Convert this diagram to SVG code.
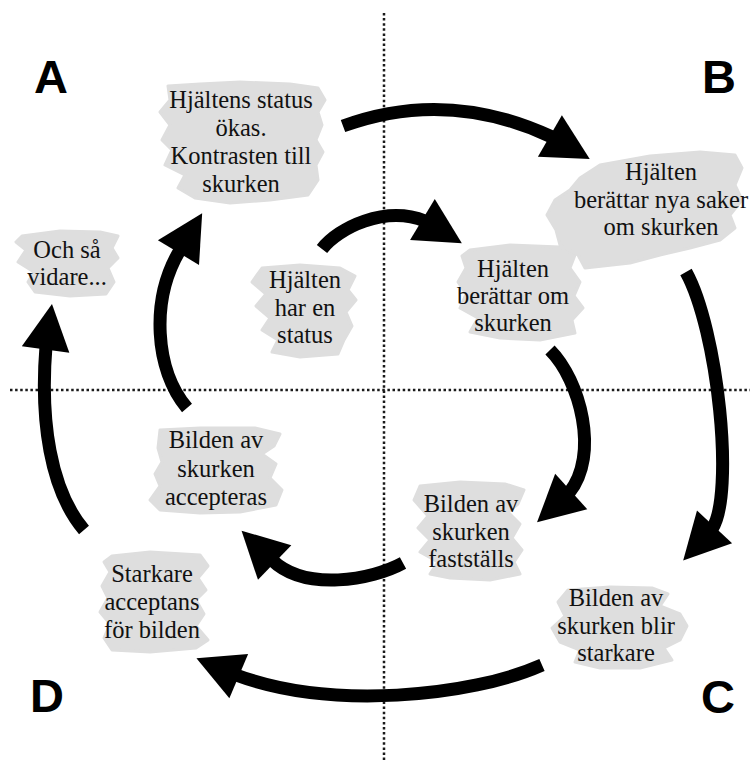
<svg xmlns="http://www.w3.org/2000/svg" xmlns:xlink="http://www.w3.org/1999/xlink" width="750" height="762" viewBox="0 0 750 762">
<style>
.bg{fill:#ffffff}
.guide{stroke:#1a1a1a;stroke-width:2.5;stroke-dasharray:2.5 2.6;fill:none}
.corner{font-family:"Liberation Sans",Arial,sans-serif;font-weight:bold;font-size:47px;fill:#000;text-anchor:middle}
.blob{fill:#dedede;stroke:#dedede;stroke-width:3;stroke-linejoin:round}
.lbl{font-family:"Liberation Serif","Times New Roman",serif;font-size:24.5px;fill:#111;text-anchor:middle}
.arc{fill:none;stroke:#000;stroke-width:13;stroke-linecap:butt}
.head{fill:#000}
</style>
<defs>
<polygon id="head" class="head" points="-3,-24 43,0 -3,24"/>
</defs>
<rect class="bg" x="0" y="0" width="750" height="762"/>
<g id="guides">
<line class="guide" x1="384" y1="13" x2="384" y2="762"/>
<line class="guide" x1="10" y1="390" x2="750" y2="390"/>
</g>
<g id="corners">
<text class="corner" x="51" y="93">A</text>
<text class="corner" x="719" y="93">B</text>
<text class="corner" x="718" y="713">C</text>
<text class="corner" x="47" y="712">D</text>
</g>
<g id="connectors">
<path class="arc" d="M343,126 Q447,88 552,137"/>
<use xlink:href="#head" href="#head" transform="translate(552.5,137.5) rotate(30)"/>
<path class="arc" d="M322,249 C338,228 385,205 425,221"/>
<use xlink:href="#head" href="#head" transform="translate(425,221) rotate(31)"/>
<path class="arc" d="M550,350 C580,380 600,455 569,493"/>
<use xlink:href="#head" href="#head" transform="translate(569,493.5) rotate(138)"/>
<path class="arc" d="M686,272 C718,330 735,495 712,529"/>
<use xlink:href="#head" href="#head" transform="translate(712.5,529) rotate(133)"/>
<path class="arc" d="M403,563 C372,580 305,592 272,560"/>
<use xlink:href="#head" href="#head" transform="translate(272.5,560.5) rotate(224)"/>
<path class="arc" d="M542,665 C470,697 330,710 236,675"/>
<use xlink:href="#head" href="#head" transform="translate(236,675) rotate(203)"/>
<path class="arc" d="M187,408 C155,370 150,300 180,250"/>
<use xlink:href="#head" href="#head" transform="translate(180,250) rotate(-59)"/>
<path class="arc" d="M84,530 C50,490 40,420 46,346"/>
<use xlink:href="#head" href="#head" transform="translate(46,346.5) rotate(-82)"/>
</g>
<g id="n-status-okas">
<path class="blob" d="M168,86 L200,84 L240,82 L290,84 L318,88 L325,100 L318,112 L322,125 L316,140 L323,152 L316,165 L318,180 L308,195 L270,200 L230,203 L195,198 L178,188 L185,175 L165,165 L172,150 L162,140 L170,125 L160,112 L170,100 Z"/>
<text class="lbl" x="241" y="108">Hjältens status</text>
<text class="lbl" x="241" y="136">ökas.</text>
<text class="lbl" x="241" y="164">Kontrasten till</text>
<text class="lbl" x="241" y="192">skurken</text>
</g>
<g id="n-och-sa-vidare">
<path class="blob" d="M22,236 L60,231 L100,232 L118,236 L112,248 L118,258 L108,268 L114,282 L106,294 L70,296 L35,292 L28,282 L34,272 L18,262 L26,250 L16,242 Z"/>
<text class="lbl" x="67" y="258">Och så</text>
<text class="lbl" x="67" y="285">vidare...</text>
</g>
<g id="n-har-status">
<path class="blob" d="M262,268 L300,265 L340,268 L355,276 L348,290 L356,300 L346,312 L352,326 L344,340 L338,354 L300,357 L272,352 L278,340 L262,330 L270,318 L256,306 L266,294 L252,282 Z"/>
<text class="lbl" x="305" y="288">Hjälten</text>
<text class="lbl" x="305" y="316">har en</text>
<text class="lbl" x="305" y="343">status</text>
</g>
<g id="n-berattar-om">
<path class="blob" d="M470,250 L510,245 L560,247 L575,255 L570,268 L580,282 L574,296 L583,308 L572,320 L575,333 L540,340 L500,338 L470,332 L478,318 L460,308 L466,294 L458,282 L466,268 L462,256 Z"/>
<text class="lbl" x="513" y="277">Hjälten</text>
<text class="lbl" x="513" y="304">berättar om</text>
<text class="lbl" x="513" y="331">skurken</text>
</g>
<g id="n-berattar-nya">
<path class="blob" d="M600,165 L650,156 L700,152 L735,155 L742,168 L735,185 L742,200 L730,215 L735,228 L720,240 L690,248 L660,255 L630,263 L585,268 L578,255 L560,245 L556,230 L547,215 L555,200 L570,190 L580,178 Z"/>
<text class="lbl" x="661" y="180">Hjälten</text>
<text class="lbl" x="661" y="207.5">berättar nya saker</text>
<text class="lbl" x="661" y="235">om skurken</text>
</g>
<g id="n-accepteras">
<path class="blob" d="M160,430 L200,428 L255,428 L280,434 L274,446 L262,454 L276,464 L270,478 L282,490 L276,505 L240,512 L200,513 L160,510 L150,500 L160,486 L155,474 L162,462 L158,448 Z"/>
<text class="lbl" x="216" y="448">Bilden av</text>
<text class="lbl" x="216" y="476.5">skurken</text>
<text class="lbl" x="216" y="505">accepteras</text>
</g>
<g id="n-starkare-acceptans">
<path class="blob" d="M112,556 L150,552 L200,555 L208,566 L198,578 L206,590 L196,600 L204,614 L196,626 L208,640 L196,648 L150,652 L112,650 L104,638 L110,624 L100,612 L108,598 L102,586 L110,572 L104,562 Z"/>
<text class="lbl" x="152" y="582">Starkare</text>
<text class="lbl" x="152" y="610">acceptans</text>
<text class="lbl" x="152" y="638">för bilden</text>
</g>
<g id="n-faststalls">
<path class="blob" d="M420,486 L460,482 L505,484 L524,490 L518,504 L508,512 L520,524 L512,538 L522,550 L514,562 L520,574 L490,580 L450,578 L430,574 L438,562 L420,552 L430,540 L418,528 L428,516 L414,500 Z"/>
<text class="lbl" x="471" y="512">Bilden av</text>
<text class="lbl" x="471" y="540">skurken</text>
<text class="lbl" x="471" y="567">fastställs</text>
</g>
<g id="n-blir-starkare">
<path class="blob" d="M568,590 L610,587 L652,588 L668,594 L660,606 L680,614 L687,626 L680,640 L664,648 L672,660 L640,668 L600,668 L575,662 L580,650 L560,642 L552,628 L565,616 L558,602 Z"/>
<text class="lbl" x="616" y="606">Bilden av</text>
<text class="lbl" x="616" y="634">skurken blir</text>
<text class="lbl" x="616" y="661">starkare</text>
</g>
</svg>
